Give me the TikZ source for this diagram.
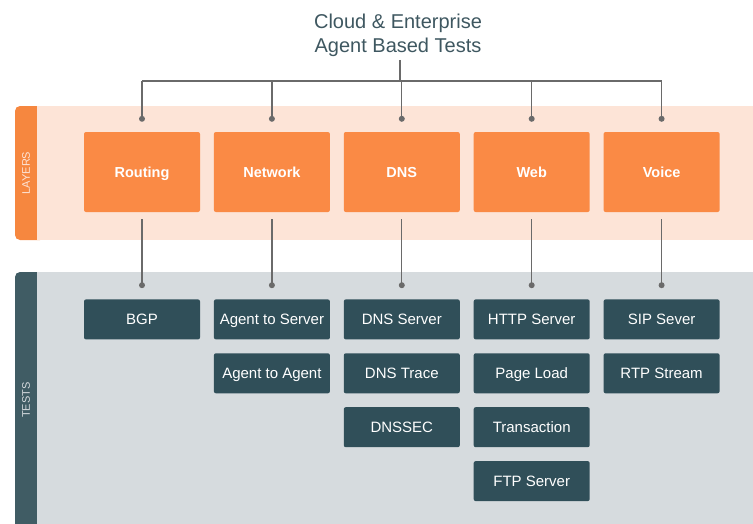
\documentclass[tikz,border=0pt]{standalone}
\usepackage{fontspec}
\setmainfont{Liberation Sans}
\usetikzlibrary{positioning}

\definecolor{layerorange}{HTML}{FA8A45}
\definecolor{layerband}{HTML}{FDE4D7}
\definecolor{layertab}{HTML}{F6873F}
\definecolor{testteal}{HTML}{304F59}
\definecolor{testband}{HTML}{D6DBDE}
\definecolor{testtab}{HTML}{405C64}
\definecolor{titlegray}{HTML}{3E5760}
\definecolor{linegray}{HTML}{6A6A6A}

\tikzset{
  layerbox/.style={fill=layerorange, rounded corners=2pt, minimum width=116pt,
    minimum height=80pt, inner sep=0pt, text height=13.4pt, text depth=3pt,
    text=white, font=\fontsize{14.5}{17}\selectfont\bfseries},
  testbox/.style={fill=testteal, rounded corners=2pt, minimum width=116pt,
    minimum height=40pt, inner sep=0pt, text height=13.7pt, text depth=3pt,
    text=white, font=\fontsize{15}{18}\selectfont},
  link/.style={draw=linegray, line width=1.3pt},
  tablabel/.style={rotate=90, font=\fontsize{11}{13}\selectfont}
}

\begin{document}
\begin{tikzpicture}[x=1pt,y=1pt]
\useasboundingbox (0,0) rectangle (753,-523);

% background bands
\begin{scope}
\clip (0,0) rectangle (753,-523);
\fill [layertab, rounded corners=5pt] (15,-106) rectangle (45,-240);
\fill [layerband] (37,-106) rectangle (760,-240);
\fill [testtab, rounded corners=5pt] (15,-272) rectangle (45,-540);
\fill [testband] (37,-272) rectangle (760,-540);
\end{scope}
\node [tablabel, text=layerband] (layerslabel) at (26,-173) {LAYERS};
\node [tablabel, text=testband] (testslabel) at (26,-400) {TESTS};

% title
\node [font=\fontsize{20}{24}\selectfont, text=titlegray, align=center] (title) at (398,-35) {Cloud \& Enterprise\\Agent Based Tests};

% layers
\node [layerbox] (routing) at (142,-172) {Routing};
\node [layerbox, right=13.5pt of routing] (network) {Network};
\node [layerbox, right=13.5pt of network] (dns) {DNS};
\node [layerbox, right=13.5pt of dns] (web) {Web};
\node [layerbox, right=13.5pt of web] (voice) {Voice};

% tests
\node [testbox, below=87pt of routing] (bgp) {BGP};
\node [testbox, below=87pt of network] (atos) {Agent to Server};
\node [testbox, below=13.5pt of atos] (atoa) {Agent to Agent};
\node [testbox, below=87pt of dns] (dnsserver) {DNS Server};
\node [testbox, below=13.5pt of dnsserver] (dnstrace) {DNS Trace};
\node [testbox, below=13.5pt of dnstrace] (dnssec) {DNSSEC};
\node [testbox, below=87pt of web] (http) {HTTP Server};
\node [testbox, below=13.5pt of http] (pageload) {Page Load};
\node [testbox, below=13.5pt of pageload] (transaction) {Transaction};
\node [testbox, below=13.5pt of transaction] (ftp) {FTP Server};
\node [testbox, below=87pt of voice] (sip) {SIP Sever};
\node [testbox, below=13.5pt of sip] (rtp) {RTP Stream};

% connectors
\coordinate (B) at (400,-81);
\draw [link] (title.south -| B) -- (B);
\draw [link] (routing.north |- B) -- (voice.north |- B);
\foreach \n in {routing,network,dns,web,voice} {
  \draw [link] (\n.north |- B) -- ([yshift=13pt]\n.north);
  \fill [linegray] ([yshift=13pt]\n.north) circle (3pt);
}
\foreach \n/\t in {routing/bgp,network/atos,dns/dnsserver,web/http,voice/sip} {
  \draw [link] ([yshift=-7pt]\n.south) -- ([yshift=14pt]\t.north);
  \fill [linegray] ([yshift=14pt]\t.north) circle (3pt);
}
\end{tikzpicture}
\end{document}
